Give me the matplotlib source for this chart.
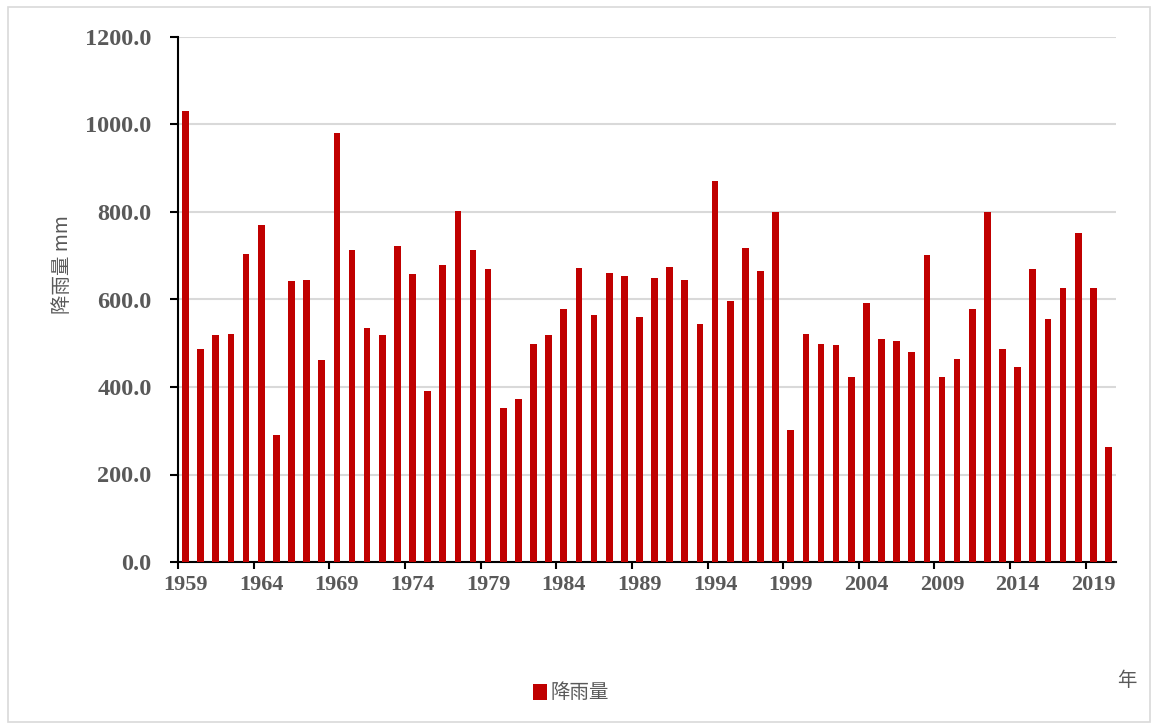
import numpy as np
import matplotlib
matplotlib.use("Agg")
import matplotlib.pyplot as plt
from matplotlib.patches import Rectangle

# annual rainfall (mm), 1959-2020
years = list(range(1959, 2021))
rainfall = [1031, 486, 520, 522, 703, 770, 291, 642, 645, 461,
            981, 712, 536, 520, 723, 659, 392, 678, 803, 712,
            670, 352, 372, 498, 520, 578, 672, 564, 661, 653,
            559, 650, 675, 645, 544, 870, 597, 717, 664, 800,
            302, 522, 498, 495, 422, 591, 510, 505, 480, 702,
            424, 463, 578, 800, 488, 446, 669, 555, 627, 753,
            627, 263]
yticks = [0, 200, 400, 600, 800, 1000, 1200]
series_name = "降雨量"
ylabel = "降雨量 mm"
xlabel = "年"

bar_color = "#C00000"
txt_gray = "#595959"
cjk = ["Noto Sans CJK SC", "DejaVu Sans"]

fig = plt.figure(figsize=(11.53, 7.26), dpi=100)
ax = fig.add_axes([178 / 1153, 1 - 562 / 726, (1116 - 178) / 1153, (562 - 37) / 726])

# outer frame of the chart area
fig.patches.append(Rectangle((8 / 1153, 4 / 726), 1142 / 1153, 715 / 726,
                             transform=fig.transFigure, fill=False,
                             edgecolor="#d9d9d9", linewidth=1.2))

x = np.arange(len(years))
ax.bar(x, rainfall, width=0.44, color=bar_color, label=series_name, zorder=3)

ax.set_xlim(-0.5, len(years) - 0.5)
ax.set_ylim(0, 1200)
ax.set_yticks(yticks)
ax.set_yticklabels([f"{v:.1f}" for v in yticks])

# labels every 5th year under the bar, ticks on group boundaries
ax.set_xticks(x[::5] - 0.5, minor=False)
ax.set_xticklabels([])
ax.set_xticks(x[::5], minor=True)
ax.set_xticklabels([str(years[i]) for i in x[::5]], minor=True)
ax.tick_params(axis="x", which="minor", length=0, pad=9)
ax.tick_params(axis="x", which="major", length=5, width=1.5, direction="out", color="black")
ax.tick_params(axis="y", length=6, width=1.5, direction="out", color="black", pad=13)

for lab in ax.get_xticklabels(minor=True):
    lab.set_fontfamily("Liberation Serif")
    lab.set_fontweight("bold")
    lab.set_fontsize(16)
    lab.set_color(txt_gray)
for lab in ax.get_yticklabels():
    lab.set_fontfamily("Liberation Serif")
    lab.set_fontweight("bold")
    lab.set_fontsize(17.5)
    lab.set_color(txt_gray)

ax.grid(axis="y", color="#d9d9d9", linewidth=1.5, zorder=0)
ax.set_axisbelow(True)
for s in ["top", "right"]:
    ax.spines[s].set_visible(False)
ax.spines["left"].set_linewidth(1.5)
ax.spines["bottom"].set_linewidth(1.5)

fig.text(62 / 1153, 1 - 265 / 726, ylabel, rotation=90, ha="center", va="center",
         fontsize=14, color=txt_gray, family=cjk, fontweight="light")
fig.text(1127 / 1153, 1 - 681 / 726, xlabel, ha="center", va="center",
         fontsize=14, color=txt_gray, family=cjk, fontweight="light")

leg = ax.legend(loc="center", bbox_to_anchor=(571 / 1153, 1 - 693 / 726),
                bbox_transform=fig.transFigure, frameon=False,
                handlelength=0.7, handleheight=0.9, handletextpad=0.2,
                prop={"family": cjk, "size": 14, "weight": "light"})
for t in leg.get_texts():
    t.set_color(txt_gray)

fig.savefig("out.png", dpi=100)
